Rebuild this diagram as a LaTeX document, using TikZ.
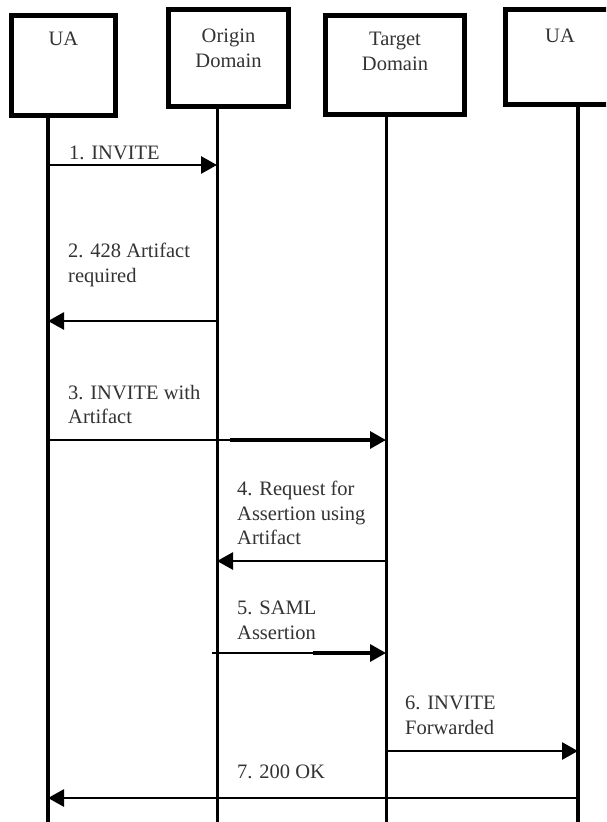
\documentclass[tikz,border=0pt]{standalone}
\usepackage{fontspec}
\setmainfont{Liberation Serif}
\usetikzlibrary{arrows.meta}
\tikzset{
  actorbox/.style={draw=black, line width=5pt, fill=white, rectangle, inner sep=0pt},
  actortext/.style={text=black!80, align=center, anchor=north, inner sep=0pt,
    font=\fontsize{20.5}{24.5}\selectfont},
  msgtext/.style={text=black!80, align=left, anchor=north west, inner sep=0pt,
    font=\fontsize{20.5}{24.5}\selectfont},
  lifeua/.style={line width=4pt},
  lifedom/.style={line width=3pt},
  msg/.style={line width=2.8pt, -{Triangle[length=16pt,width=17pt]}},
  msgthin/.style={line width=2pt},
  msgthick/.style={line width=3.4pt, -{Triangle[length=16pt,width=17pt]}},
}
\begin{document}
\begin{tikzpicture}[x=1pt,y=1pt]
\useasboundingbox (0,0) rectangle (606,-822);
\clip (0,0) rectangle (606,-822);
\fill[white] (0,0) rectangle (606,-822);

% boxes
\node[actorbox, minimum width=104pt, minimum height=100pt] (b1) at (63.5,-65.5) {};
\node[actorbox, minimum width=120pt, minimum height=97pt] (b2) at (228.5,-58) {};
\node[actorbox, minimum width=139pt, minimum height=99pt] (b3) at (395,-65) {};
\node[actorbox, minimum width=114.5pt, minimum height=95pt] (b4) at (562.75,-57) {};

\node[actortext] (t1) at (63.5,-32) {UA};
\node[actortext] (t2) at (228.5,-29) {Origin\\Domain};
\node[actortext] (t3) at (395,-32) {Target\\Domain};
\node[actortext] (t4) at (560,-29) {UA};

% lifeline ends
\coordinate (e1) at (48,-822);
\coordinate (e2) at (217,-822);
\coordinate (e3) at (386,-822);
\coordinate (e4) at (578,-822);
\coordinate (s1) at (48,-118);
\coordinate (s2) at (217,-109);
\coordinate (s3) at (386,-117);
\coordinate (s4) at (578,-107);
\draw[lifeua] (s1) -- (e1);
\draw[lifedom] (s2) -- (e2);
\draw[lifedom] (s3) -- (e3);
\draw[lifeua] (s4) -- (e4);

% message end points
\coordinate (m1a) at (48,-165);  \coordinate (m1b) at (217,-165);
\coordinate (m2a) at (217,-321); \coordinate (m2b) at (48,-321);
\coordinate (m3a) at (48,-440);  \coordinate (m3s) at (230,-440); \coordinate (m3b) at (386,-440);
\coordinate (m4a) at (386,-561); \coordinate (m4b) at (217,-561);
\coordinate (m5a) at (212,-653); \coordinate (m5s) at (313,-653); \coordinate (m5b) at (386,-653);
\coordinate (m6a) at (386,-751); \coordinate (m6b) at (578,-751);
\coordinate (m7a) at (578,-798); \coordinate (m7b) at (48,-798);

\draw[msg] (m1a) -- (m1b);
\draw[msg] (m2a) -- (m2b);
\draw[msgthin] (m3a) -- (m3s);
\draw[msgthick] (m3s) -- (m3b);
\draw[msg] (m4a) -- (m4b);
\draw[msgthin] (m5a) -- (m5s);
\draw[msgthick] (m5s) -- (m5b);
\draw[msg] (m6a) -- (m6b);
\draw[msg] (m7a) -- (m7b);

% labels
\node[msgtext] (l1) at (69,-146) {1. INVITE};
\node[msgtext] (l2) at (68,-243) {2. 428 Artifact\\required};
\node[msgtext] (l3) at (68,-385) {3. INVITE with\\Artifact};
\node[msgtext] (l4) at (237,-481) {4. Request for\\Assertion using\\Artifact};
\node[msgtext] (l5) at (237,-601) {5. SAML\\Assertion};
\node[msgtext] (l6) at (405,-696) {6. INVITE\\Forwarded};
\node[msgtext] (l7) at (237,-765) {7. 200 OK};
\end{tikzpicture}
\end{document}
